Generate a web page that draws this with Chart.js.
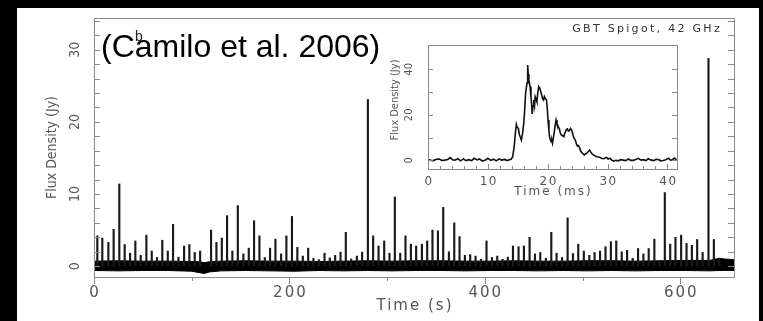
<!DOCTYPE html>
<html><head><meta charset="utf-8">
<script src="https://cdn.jsdelivr.net/npm/chart.js@4.4.1/dist/chart.umd.min.js"></script>
<style>
html,body{margin:0;padding:0;background:#000;width:763px;height:321px;overflow:hidden}
#main{position:absolute;left:0;top:0}
#inset{position:absolute;left:380px;top:40px}
</style></head><body>
<canvas id="main" width="763" height="321"></canvas>
<canvas id="inset" width="310" height="165"></canvas>
<script>
// ---- main panel: single pulses (time in s, peak flux density in Jy)
const spikeTimes = [3.4,8.5,14.7,20.1,25.9,31.4,36.9,42.3,47.8,53.6,59.1,64.5,69.9,75.5,80.9,86.4,92.2,97.6,103.1,108.6,
  119.8,125.3,130.8,136.2,141.6,147.2,152.9,158.4,163.8,169.3,174.8,180.2,185.7,191.5,196.9,202.6,208.1,213.7,219.2,224.6,
  230.1,235.9,241.3,246.8,252.3,257.7,263.2,269.0,274.4,280.3,285.7,291.2,297.0,302.4,307.9,313.4,318.8,324.3,329.7,335.6,
  341.0,346.4,352.0,357.4,363.2,368.7,374.1,379.6,385.0,390.5,396.0,401.7,407.3,412.7,418.1,423.5,428.8,434.5,440.0,445.8,
  451.3,456.7,462.5,468.0,473.4,479.0,484.7,490.2,495.6,501.3,506.9,512.3,517.9,523.5,529.0,534.5,540.1,545.6,551.3,556.8,
  562.3,567.7,573.5,579.0,584.2,589.7,595.1,600.9,606.4,611.9,617.3,622.9,628.9,634.4,640.0];
const spikeFlux = [4.2,3.9,3.3,5.1,11.4,3.0,1.8,3.5,1.5,4.3,2.1,1.2,3.6,2.1,5.8,1.25,2.8,3.0,1.9,2.1,
  5.0,3.3,3.9,7.0,2.1,8.4,1.7,2.5,6.3,4.2,1.2,2.5,3.75,1.7,4.2,6.9,2.6,1.4,2.5,1.1,
  0.9,1.8,1.15,1.5,1.95,4.7,1.0,1.4,1.95,23.1,4.2,2.8,3.5,1.8,9.6,1.8,4.2,3.05,2.8,3.05,
  3.5,5.0,4.9,8.15,2.0,6.0,4.1,1.5,1.6,1.4,0.95,3.5,1.2,1.4,0.95,1.25,2.8,2.7,2.8,4.0,
  1.7,1.9,1.1,4.7,1.8,1.2,6.7,1.75,3.05,2.1,1.5,1.9,2.1,2.7,3.4,3.5,2.0,2.2,1.1,2.45,
  1.7,2.45,3.75,0.8,10.2,3.05,4.0,4.3,3.15,2.9,3.7,1.9,28.8,3.7,1.0];
// baseline noise envelope (Jy)
const noiseTimes = [0,25,50,75,100,108,113,118,130,155,180,205,230,255,280,305,330,355,380,405,430,455,480,505,530,555,580,605,630,640,645,655];
const noiseHigh  = [0.7,0.75,0.7,0.7,0.65,0.6,0.5,0.6,0.7,0.75,0.7,0.7,0.65,0.7,0.75,0.7,0.75,0.75,0.7,0.7,0.75,0.7,0.7,0.75,0.75,0.7,0.75,0.8,0.8,1.1,1.0,0.9];
const noiseLow   = [-0.6,-0.65,-0.6,-0.6,-0.7,-0.9,-1.0,-0.8,-0.65,-0.6,-0.65,-0.7,-0.6,-0.65,-0.6,-0.65,-0.6,-0.6,-0.65,-0.6,-0.6,-0.65,-0.6,-0.65,-0.6,-0.65,-0.6,-0.6,-0.65,-0.6,-0.6,-0.6];
const mainXTicks = [0,200,400,600];
const mainXMinorTicks = [100,300,500];
const mainYTicks = [0,10,20,30];
const mainYMinorTicks = [2,4,6,8,12,14,16,18,22,24,26,28,32,34];

// ---- inset: brightest pulse profile (time in ms, flux density in Jy)
const profileTimes = [0.0,0.5,0.9,1.4,1.9,2.3,2.8,3.3,3.7,4.1,4.5,5.0,5.4,5.9,6.4,6.8,7.3,7.7,8.2,8.6,9.1,9.6,10.0,10.5,11.0,11.4,11.9,12.3,12.8,13.2,13.6,13.9,
  14.15,14.4,14.6,14.76,14.9,15.1,15.25,15.4,15.6,15.8,16.0,16.1,16.3,16.45,16.55,16.65,16.75,16.85,17.05,17.2,17.3,17.4,17.55,17.66,17.8,17.9,18.05,18.2,18.35,18.5,18.7,18.85,
  19.0,19.15,19.3,19.45,19.6,19.8,19.95,20.05,20.2,20.3,20.45,20.56,20.7,20.8,20.95,21.1,21.25,21.4,21.55,21.67,21.8,21.95,22.1,22.3,22.5,22.7,22.8,22.95,23.1,23.3,23.45,23.6,23.8,
  24.0,24.15,24.3,24.45,24.6,24.8,24.95,25.1,25.3,25.5,25.7,25.9,26.1,26.3,26.5,26.75,27.0,27.2,27.35,27.5,27.7,27.95,28.2,28.5,28.75,29.0,29.3,29.6,29.85,30.1,30.4,30.7,
  31.0,31.4,31.8,32.2,32.6,33.0,33.5,33.9,34.3,34.7,35.15,35.6,36.0,36.4,36.8,37.2,37.7,38.1,38.5,38.9,39.3,39.7,40.2,40.5,40.8,41.2,41.5];
const profileFlux = [0.4,0.0,-0.1,0.5,0.6,0.0,0.1,0.4,1.2,0.3,0.1,0.7,-0.2,0.6,-0.1,0.3,-0.1,0.9,0.2,0.6,-0.3,0.1,0.9,0.0,0.5,-0.2,0.6,0.1,0.4,-0.1,0.3,0.5,
  1.6,6.0,12,15.8,14.5,14.0,11.5,10.4,8.9,11.9,16.5,19.9,29.4,32.4,34,41.9,38,35.3,32.4,28,25,20.4,24,26.5,24,28,27,25.8,30,32.4,31.6,30,
  28.7,27,26.5,28,27.2,26.5,22,17.7,13,10.4,9,8.2,8.6,7.5,10,12.6,15.5,17.7,16,15.5,14.5,14.0,12,11.1,10.8,10.4,11.5,12.6,13.5,13.8,12.8,13.0,14,
  13.3,12,10.4,9.5,8.9,7.2,6.3,6.5,5.7,4.2,3.4,2.9,2.3,2.9,3.1,3.8,4.5,3.6,3.1,2.6,2.3,1.9,1.6,1.5,1.3,0.9,0.7,1.0,1.3,0.6,0.9,0.1,
  -0.3,0.0,-0.2,0.3,0.1,-0.1,0.6,0.0,0.0,0.4,0.9,0.1,0.3,-0.1,0.7,0.2,-0.1,0.5,0.4,-0.2,-0.1,0.3,0.9,0.1,0.3,1.0,0.2];
const insetXTicks = [0,10,20,30,40];
const insetXMinorTicks = [2,4,6,8,12,14,16,18,22,24,26,28,32,34,36,38];
const insetYTicks = [0,20,40];
const insetYMinorTicks = [10,30];

const WIDE = 'DejaVu Sans, sans-serif';
const COND = '"DejaVu Sans Condensed", "DejaVu Sans", sans-serif';
const FRAME = '#8a8a8a';
const TXT = '#555';

function txt(ctx, s, x, y, font, color, spacing, align, rot) {
  ctx.save();
  ctx.translate(x, y);
  if (rot) ctx.rotate(-Math.PI / 2);
  ctx.font = font;
  ctx.fillStyle = color;
  ctx.letterSpacing = spacing || '0px';
  ctx.textAlign = align || 'center';
  ctx.textBaseline = 'middle';
  ctx.fillText(s, 0, 0);
  ctx.restore();
}
function frame(ctx, a) {
  ctx.save();
  ctx.strokeStyle = FRAME; ctx.lineWidth = 1;
  ctx.strokeRect(Math.round(a.left) + 0.5, Math.round(a.top) + 0.5, Math.round(a.right - a.left), Math.round(a.bottom - a.top));
  ctx.restore();
}
function hTick(ctx, x1, x2, y) {
  const yy = Math.round(y) + 0.5;
  ctx.beginPath(); ctx.moveTo(x1, yy); ctx.lineTo(x2, yy); ctx.stroke();
}
function vTick(ctx, x, y1, y2) {
  const xx = Math.round(x) + 0.5;
  ctx.beginPath(); ctx.moveTo(xx, y1); ctx.lineTo(xx, y2); ctx.stroke();
}

const mainDecor = {
  id: 'mainDecor',
  beforeDraw(chart) {
    const ctx = chart.ctx;
    ctx.save(); ctx.fillStyle = '#fff'; ctx.fillRect(17, 8, 742, 313); ctx.restore();
  },
  afterDraw(chart) {
    const ctx = chart.ctx, a = chart.chartArea, xs = chart.scales.x, ys = chart.scales.y;
    frame(ctx, a);
    ctx.save(); ctx.strokeStyle = FRAME; ctx.lineWidth = 1;
    mainYTicks.concat(mainYMinorTicks).forEach(v => {
      const y = ys.getPixelForValue(v);
      hTick(ctx, a.left, a.left + 6, y);
      hTick(ctx, a.right - 6, a.right, y);
    });
    mainXTicks.forEach(v => vTick(ctx, xs.getPixelForValue(v), a.bottom, a.bottom + 7));
    mainXMinorTicks.forEach(v => vTick(ctx, xs.getPixelForValue(v), a.bottom, a.bottom + 4));
    ctx.restore();
    mainXTicks.forEach(v => txt(ctx, String(v), xs.getPixelForValue(v) + 1, a.bottom + 16, '15px ' + WIDE, TXT, '2px'));
    mainYTicks.forEach(v => txt(ctx, String(v), a.left - 19, ys.getPixelForValue(v), '14px ' + COND, TXT, '0px', 'center', true));
    txt(ctx, 'Time (s)', (a.left + a.right) / 2 + 1, 306, '15px ' + WIDE, TXT, '2px');
    txt(ctx, 'Flux Density (Jy)', 52, (a.top + a.bottom) / 2, '14px ' + COND, TXT, '0px', 'center', true);
    txt(ctx, 'GBT Spigot, 42 GHz', 722, 29, '11px ' + WIDE, '#333', '2.3px', 'right');
    txt(ctx, 'b', 139, 37, '14px "Liberation Sans", Arial, sans-serif', '#222');
    ctx.save();
    ctx.font = '32px "Liberation Sans", Arial, sans-serif';
    ctx.fillStyle = '#000'; ctx.textAlign = 'left'; ctx.textBaseline = 'alphabetic';
    ctx.fillText('(Camilo et al. 2006)', 101, 57);
    ctx.restore();
  }
};

new Chart(document.getElementById('main'), {
  type: 'bar',
  data: { datasets: [
    { type: 'bar', data: spikeTimes.map((t, i) => ({ x: t, y: spikeFlux[i] })), backgroundColor: '#1a1a1a', barThickness: 1.5, grouped: false, order: 1 },
    { type: 'line', data: noiseTimes.map((t, i) => ({ x: t, y: noiseHigh[i] })), borderColor: '#000', backgroundColor: '#000', borderWidth: 1, pointRadius: 0, fill: '+1', tension: 0, order: 2 },
    { type: 'line', data: noiseTimes.map((t, i) => ({ x: t, y: noiseLow[i] })), borderColor: '#000', borderWidth: 1, pointRadius: 0, fill: false, tension: 0, order: 3 }
  ]},
  options: {
    responsive: false, animation: false, events: [],
    layout: { padding: { left: 94, right: 29, top: 18, bottom: 44 } },
    plugins: { legend: { display: false }, tooltip: { enabled: false } },
    scales: {
      x: { type: 'linear', min: 0, max: 655, display: false, offset: false },
      y: { type: 'linear', min: -1.5, max: 34.4, display: false }
    }
  },
  plugins: [mainDecor]
});

const insetDecor = {
  id: 'insetDecor',
  beforeDatasetsDraw(chart) {
    const ctx = chart.ctx, a = chart.chartArea;
    ctx.save(); ctx.fillStyle = '#fff'; ctx.fillRect(a.left, a.top, a.right - a.left, a.bottom - a.top); ctx.restore();
  },
  afterDraw(chart) {
    const ctx = chart.ctx, a = chart.chartArea, xs = chart.scales.x, ys = chart.scales.y;
    frame(ctx, a);
    ctx.save(); ctx.strokeStyle = FRAME; ctx.lineWidth = 1;
    insetYTicks.concat(insetYMinorTicks).forEach(v => {
      const y = ys.getPixelForValue(v);
      hTick(ctx, a.left, a.left + 5, y);
      hTick(ctx, a.right - 5, a.right, y);
    });
    insetXTicks.forEach(v => vTick(ctx, xs.getPixelForValue(v), a.bottom - 5, a.bottom));
    insetXMinorTicks.forEach(v => vTick(ctx, xs.getPixelForValue(v), a.bottom - 3, a.bottom));
    ctx.restore();
    insetXTicks.forEach(v => txt(ctx, String(v), xs.getPixelForValue(v) + 1, a.bottom + 13, '12px ' + WIDE, TXT, '1.5px'));
    insetYTicks.forEach(v => txt(ctx, String(v), a.left - 19, ys.getPixelForValue(v), '11px ' + COND, TXT, '0px', 'center', true));
    txt(ctx, 'Time (ms)', (a.left + a.right) / 2 + 1, a.bottom + 23, '12px ' + WIDE, TXT, '2px');
    txt(ctx, 'Flux Density (Jy)', 15, 60, '11px ' + COND, TXT, '0px', 'center', true);
  }
};

new Chart(document.getElementById('inset'), {
  type: 'line',
  data: { datasets: [
    { data: profileTimes.map((t, i) => ({ x: t, y: profileFlux[i] })), borderColor: '#111', borderWidth: 1.6, pointRadius: 0, fill: false, tension: 0 }
  ]},
  options: {
    responsive: false, animation: false, events: [],
    layout: { padding: { left: 48, right: 13, top: 5, bottom: 36 } },
    plugins: { legend: { display: false }, tooltip: { enabled: false } },
    scales: {
      x: { type: 'linear', min: 0, max: 41.6, display: false },
      y: { type: 'linear', min: -3.8, max: 50.7, display: false }
    }
  },
  plugins: [insetDecor]
});
</script>
</body></html>
